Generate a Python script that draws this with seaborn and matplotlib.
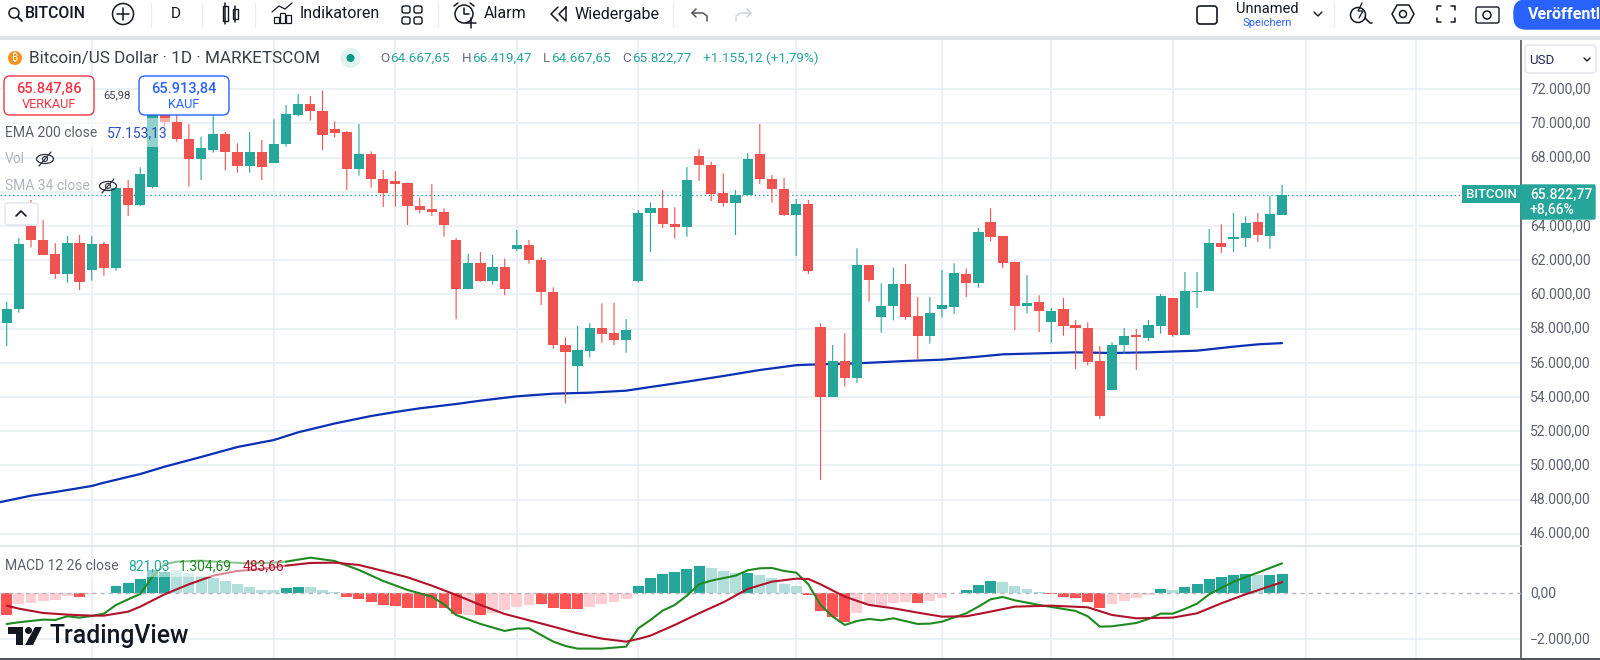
import numpy as np
import pandas as pd
import matplotlib
matplotlib.use('Agg')
import matplotlib.pyplot as plt
from matplotlib.patches import Circle, Ellipse, FancyBboxPatch, Polygon, Rectangle
import seaborn as sns

# Daily candles
opens = [58309, 59128, 64022, 63184, 62346, 61176, 63028, 61429, 62930, 61546, 66226, 65212, 66265, 70800, 70107, 69112, 67942, 68469, 69385, 68332, 67532, 68332, 67688, 68800, 70516, 71120, 70750, 69658, 69502, 67318, 68215, 66752, 66636, 66499, 65173, 64978,
         64822, 63184, 60298, 61819, 60786, 61604, 62638, 62872, 62014, 60123, 57022, 55813, 56710, 58016, 57724, 57334, 60805, 64744, 65075, 64120, 63964, 68117, 67591, 65914, 65329, 65797, 68234, 66752, 66167, 64646,
         65290, 58075, 54019, 56086, 55131, 61702, 58699, 59342, 60590, 58718, 57548, 59167, 59284, 61175, 60649, 64217, 63398, 61878, 59342, 59537, 58387, 59128, 58211, 58017, 56086, 54409, 57022, 57607, 57451, 58172, 59771, 57646, 60122, 60220, 63028, 63223, 63320, 64217, 63437, 64668]
highs = [59576, 63282, 65524, 64354, 62989, 63418, 63476, 63418, 63086, 66226, 66694, 67435, 70984, 71179, 70594, 69970, 69229, 70497, 69502, 68839, 69502, 69034, 70243, 71081, 71725, 71608, 71920, 70126, 69560, 69970, 68371, 67279, 67220, 66499, 65660, 66460,
         65036, 63301, 62365, 62482, 62306, 62092, 63769, 63184, 62170, 60415, 57490, 58153, 58309, 59479, 59518, 58562, 64939, 65388, 66109, 65095, 67454, 68507, 67767, 67084, 66109, 68254, 69970, 66986, 66811, 65582,
         65524, 58309, 57041, 57724, 62697, 61702, 60649, 61566, 61780, 59850, 59850, 61429, 61819, 61507, 63886, 65036, 63398, 61916, 61136, 59947, 59206, 59791, 58504, 58367, 56983, 57198, 58036, 57977, 58504, 60025, 59771, 61312, 61312, 63827, 64100, 64764, 64569, 64764, 65778, 66419]
lows = [56983, 58933, 62755, 62326, 60902, 60688, 60259, 60805, 61097, 61390, 64588, 65173, 66206, 69814, 68937, 66304, 66694, 68293, 67260, 67123, 67123, 66694, 67688, 68644, 70399, 70165, 68449, 69190, 66109, 66947, 66245, 65114, 65134, 64062, 64744, 64588,
        63379, 58543, 60298, 60747, 60571, 59947, 62540, 61800, 59381, 56827, 53629, 54312, 56320, 57178, 57041, 56593, 60688, 62482, 63886, 63262, 63379, 66635, 65465, 65134, 63476, 65797, 66460, 65368, 64588, 62248,
        61195, 49144, 54019, 54604, 54818, 59576, 57763, 58484, 58523, 56164, 57120, 58640, 58855, 59850, 60395, 63106, 61526, 57919, 58894, 57802, 57178, 57587, 55638, 55852, 52712, 54409, 56515, 55579, 57276, 57705, 57529, 57646, 59206, 60220, 62424, 62482, 62774, 63067, 62677, 64668]
closes = [59128, 62930, 63184, 62326, 61176, 63028, 60747, 62930, 61546, 66226, 65212, 67026, 70800, 70107, 69112, 67942, 68547, 69385, 68332, 67532, 68332, 67474, 68800, 70555, 71120, 70750, 69327, 69463, 67318, 68215, 66752, 65953, 66480, 65173, 64958, 64802,
          64062, 60298, 61819, 60786, 61604, 60337, 62872, 62014, 60123, 57022, 56652, 56730, 58016, 57704, 57334, 57919, 64744, 65075, 64140, 63944, 66694, 67591, 65875, 65329, 65817, 67903, 66752, 66167, 64646, 65270,
          61390, 53980, 56086, 55131, 61702, 60863, 59342, 60590, 58699, 57548, 58933, 59362, 61234, 60688, 63652, 63379, 61858, 59342, 59498, 59011, 59030, 58172, 58036, 56067, 52888, 57022, 57568, 57510, 58192, 59908, 57646, 60181, 60181, 63028, 62794, 63340, 64159, 63496, 64705, 65823]

ema_idx = [-1, 2, 4, 7, 8, 11, 13, 16, 19, 22, 24, 27, 30, 32, 34, 37, 39, 42, 45, 48, 51, 53, 56, 59, 62, 65, 66, 70, 74, 77, 80, 82, 85, 88, 91, 94, 98, 101, 103, 105]
ema_vals = [47781, 48226, 48442, 48793, 48986, 49495, 49922, 50490, 51075, 51484, 51935, 52449, 52888, 53122, 53337, 53590, 53785, 54039, 54194, 54253, 54370, 54584, 54896, 55228, 55579, 55860, 55891, 55969, 56105, 56183, 56359, 56496, 56554, 56612, 56574, 56612, 56710, 56944, 57080, 57153]

hist = [-942, -478, -435, -319, -290, -116, -160, -43, 20, 333, 464, 623, 1014, 942, 1014, 898, 768, 652, 536, 391, 275, 145, 145, 217, 290, 261, 145, 58,
        -145, -246, -377, -507, -551, -638, -652, -652, -652, -913, -942, -942, -840, -725, -609, -507, -464, -623, -696, -696, -594, -478, -391, -246,
        333, 681, 840, 927, 1072, 1188, 1116, 971, 869, 884, 797, 667, 406, 304, -72, -768, -1043, -1260, -869, -507, -551, -406, -362, -420, -319, -203,
        29, 145, 362, 536, 478, 304, 188, 58, -43, -145, -203, -362, -638, -464, -319, -203, -72, 188, 130, 290, 406, 638, 725, 797, 840, 797, 797, 821]
hist_strong = [0, 6, 9, 10, 11, 12, 13, 23, 24, 28, 29, 30, 31, 32, 33, 34, 35, 36, 37, 39, 44, 45, 46, 47, 52, 53, 54, 55, 56, 57, 61, 66, 67, 68, 69, 75,
               79, 80, 81, 86, 87, 88, 89, 90, 95, 97, 98, 99, 100, 101, 102, 104, 105]

macd_idx = [0, 1, 3, 4, 5, 6, 7, 8, 9, 10, 11, 12, 13, 14, 16, 18, 20, 22, 23, 25, 27, 29, 31, 33, 35, 36, 37, 39, 41, 42, 43, 44, 45, 46, 47, 49, 51, 52,
            53, 54, 55, 56, 57, 58, 60, 61, 62, 63, 64, 65, 66, 67, 68, 69, 70, 71, 72, 73, 75, 76, 77, 79, 80, 81, 82, 83, 85, 88, 89, 90, 91, 93, 94, 95, 96, 97, 98, 99, 101, 103, 105]
macd_vals = [-1333, -1260, -1145, -1159, -1000, -1058, -985, -884, -507, -261, -29, 725, 1261, 1377, 1420, 1348, 1304, 1333, 1377, 1550, 1406, 1014, 536, 145, -145, -478, -942, -1333, -1637, -1536, -1521, -1811, -2101, -2290, -2405, -2405, -2318, -1521,
             -1159, -753, -507, -101, 391, 551, 768, 1000, 1087, 1101, 971, 898, 391, -507, -1014, -1377, -1203, -1116, -1174, -1087, -1333, -1319, -1232, -869, -580, -261, -159, -304, -507, -768, -1000, -1449, -1435, -1290, -1116, -884, -884, -681, -449, -43, 507, 898, 1304]

signal_idx = [0, 1, 3, 5, 7, 8, 10, 11, 13, 15, 17, 19, 21, 23, 25, 27, 29, 31, 33, 35, 37, 39, 41, 43, 45, 47, 49, 51, 52,
              53, 55, 57, 59, 61, 63, 65, 66, 67, 69, 71, 73, 75, 77, 79, 81, 83, 86, 89, 91, 93, 96, 98, 100, 102, 105]
signal_vals = [-536, -667, -855, -927, -971, -971, -797, -580, -43, 391, 768, 971, 1058, 1203, 1319, 1333, 1232, 971, 696, 333, -72, -507, -898, -1174, -1449, -1739, -1971, -2101, -1985,
               -1840, -1377, -869, -391, 188, 507, 638, 623, 391, -145, -507, -652, -840, -1014, -1000, -797, -580, -536, -609, -942, -1087, -1058, -869, -435, -43, 484]

price_ticks = list(range(46000, 74000, 2000))
macd_ticks = [-2000, 0]
time_grid = [7, 22, 32, 42, 52, 65, 77, 86, 96, 107, 116]
last_price = 65822.77

UP = '#26a69a'
DOWN = '#ef5350'
UP_PALE = '#b2dfdb'
DOWN_PALE = '#ffcdd2'
DOWN_HIST = '#ff5252'
GRID = '#e9eff4'
TEXT = '#4a4e59'
MUTED = '#b2b5be'
BLUE = '#2962ff'
FONT = ['Roboto', 'DejaVu Sans']

sns.set_theme(style='white')
plt.rcParams['font.family'] = FONT

df = pd.DataFrame({'i': range(len(opens)), 'open': opens, 'high': highs, 'low': lows, 'close': closes})
df['lower'] = df[['open', 'close']].min(axis=1)
df['body'] = (df['close'] - df['open']).abs()
df['up'] = df['close'] >= df['open']

hist_df = pd.DataFrame({'i': range(len(hist)), 'hist': hist})
hist_df['strong'] = hist_df['i'].isin(hist_strong)


def hist_color(row):
    if row['hist'] >= 0:
        return UP if row['strong'] else UP_PALE
    return DOWN_HIST if row['strong'] else DOWN_PALE


hist_df['color'] = hist_df.apply(hist_color, axis=1)

W, H = 1600, 660
fig = plt.figure(figsize=(16, 6.6), dpi=100)
# one candle = 12.146 px, first candle centred at 6.7 px, right axis at 1521 px
xlim = (-0.552, 124.67)
ax = fig.add_axes([0, 1 - 546 / H, 1521 / W, (546 - 40) / H])
ax2 = fig.add_axes([0, 1 - 658 / H, 1521 / W, (658 - 546) / H])

# price pane
for sign, color in [(True, UP), (False, DOWN)]:
    sub = df[df['up'] == sign]
    wicks = ax.vlines(sub['i'], sub['low'], sub['high'], color=color, lw=0.8, zorder=3)
    wicks.set_snap(False)
    sns.barplot(x=sub['i'], y=sub['body'], bottom=sub['lower'], color=color, saturation=1,
                native_scale=True, width=0.84, errorbar=None, ax=ax, zorder=4, linewidth=0)
sns.lineplot(x=ema_idx, y=ema_vals, color='#0b30b4', lw=1.6, errorbar=None, ax=ax, zorder=2)
ax.axhline(last_price, color=UP, lw=1, ls=(0, (1, 2)), zorder=2)
ax.set_ylim(45283, 74884)

# MACD pane
for col, sub in hist_df.groupby('color'):
    sns.barplot(x=sub['i'], y=sub['hist'], color=col, saturation=1, native_scale=True,
                width=0.9, errorbar=None, ax=ax2, zorder=2, linewidth=0)
ax2.axhline(0, color=MUTED, lw=1, ls=(0, (3, 3)), zorder=3)
sns.lineplot(x=macd_idx, y=macd_vals, color='#1f8a21', lw=1.5, errorbar=None, ax=ax2, zorder=5)
sns.lineplot(x=signal_idx, y=signal_vals, color='#b0122a', lw=1.5, errorbar=None, ax=ax2, zorder=6)
ax2.set_ylim(-2813, 2057)


def german(v):
    s = f"{abs(v):,.2f}".replace(',', 'X').replace('.', ',').replace('X', '.')
    return ('\u2212' + s) if v < 0 else s


for a, ticks in [(ax, price_ticks), (ax2, macd_ticks)]:
    a.set_xlim(*xlim)
    a.set_xticks(time_grid)
    a.set_xticklabels([])
    a.set_yticks(ticks)
    a.set_yticklabels([german(t) for t in ticks], va='center')
    a.yaxis.tick_right()
    a.tick_params(axis='both', length=0)
    a.tick_params(axis='y', pad=6.5, labelsize=10, labelcolor='#5d606b')
    a.grid(True, color=GRID, lw=1.2, zorder=0)
    a.set_axisbelow(True)
    a.set_xlabel('')
    a.set_ylabel('')
    for name, spine in a.spines.items():
        spine.set_visible(name == 'right')
    a.spines['right'].set_color('#50535e')
    a.spines['right'].set_linewidth(1.2)
ax2.yaxis.grid(False)
ax2.axhline(-2000, color=GRID, lw=1.2, zorder=0)

# everything around the chart goes on a pixel overlay
ov = fig.add_axes([0, 0, 1, 1], zorder=10)
ov.set_xlim(0, W)
ov.set_ylim(H, 0)
ov.axis('off')
ov.patch.set_visible(False)


def label(x, y, s, size=10, color=TEXT, ha='left', weight='normal', **kw):
    return ov.text(x, y, s, fontsize=size, color=color, ha=ha, va='center', weight=weight, **kw)


def rbox(x0, y0, x1, y1, r=4, fc='white', ec='#e0e3eb', lw=1.0, alpha=None):
    p = FancyBboxPatch((x0 + r, y0 + r), x1 - x0 - 2 * r, y1 - y0 - 2 * r, boxstyle=f'round,pad={r}',
                       fc=fc, ec=ec, lw=lw, alpha=alpha)
    ov.add_patch(p)


def stroke(xs, ys, color='#131722', lw=1.1):
    ov.plot(xs, ys, color=color, lw=lw, solid_capstyle='round', solid_joinstyle='round')


def ring(x, y, r, color='#131722', lw=1.1):
    ov.add_patch(Circle((x, y), r, fc='none', ec=color, lw=lw))


def eye_off(x, y):
    ov.add_patch(Ellipse((x, y), 17, 9, fc='none', ec='#2a2e39', lw=0.9))
    ring(x, y, 2.5, '#2a2e39', 0.8)
    stroke([x - 6, x + 6], [y + 7, y - 7], '#2a2e39', 0.9)


# toolbar
ov.add_patch(Rectangle((0, 36), W, 4, fc='#e0e3eb', ec='none'))
ring(14, 13, 5)
stroke([18, 22], [17, 21], lw=1.3)
label(25, 14, 'BITCOIN', 11.3, '#131722', weight='medium')
ring(123, 14, 10.5)
stroke([117, 129], [14, 14])
stroke([123, 123], [8, 20])
label(176, 14, 'D', 11, '#131722', ha='center')
for sx in [151, 202, 255, 438, 673, 1334]:
    stroke([sx, sx], [3, 27], '#e9ebf0', 1.0)
for cx, y0, y1 in [(225, 6, 21), (235, 9, 19)]:
    ov.add_patch(Rectangle((cx - 2.5, y0), 5, y1 - y0, fc='none', ec='#131722', lw=1))
    stroke([cx, cx], [y0 - 3, y1 + 3])
for bx, bh in [(274, 6), (280, 10), (286, 8)]:
    ov.add_patch(Rectangle((bx, 23 - bh), 5, bh, fc='none', ec='#131722', lw=0.9))
stroke([272, 279, 285, 292], [12, 6, 9, 3], lw=0.9)
label(300, 14, 'Indikatoren', 11.5, '#131722')
for gx, gy in [(402, 6), (414, 6), (402, 17), (414, 17)]:
    rbox(gx, gy, gx + 8, gy + 7, r=2, fc='none', ec='#131722')
ring(464, 14, 9)
stroke([464, 464, 469], [8, 14, 14])
stroke([454, 458], [6, 3])
stroke([470, 474], [3, 6])
stroke([466, 476], [23, 23])
stroke([471, 471], [18, 28])
label(484, 14, 'Alarm', 11.5, '#131722')
stroke([558, 551, 558], [7, 14, 21])
stroke([566, 559, 566, 566], [7, 14, 21, 7])
label(575, 14, 'Wiedergabe', 11.5, '#131722')
stroke([696, 692, 696], [9, 13, 17], '#50535e')
stroke([692, 703, 707, 707], [13, 13, 16, 21], '#50535e')
stroke([747, 751, 747], [9, 13, 17], '#d1d4dc')
stroke([751, 740, 736, 736], [13, 13, 16, 21], '#d1d4dc')
rbox(1197, 6, 1217, 24, r=3, fc='none', ec='#131722', lw=1.2)
label(1267, 9, 'Unnamed', 10.5, '#131722', ha='center')
label(1267, 23, 'Speichern', 8, BLUE, ha='center')
stroke([1314, 1318, 1322], [12, 16, 12], lw=1.0)
ring(1358, 15, 7.5)
stroke([1365, 1370, 1372], [18, 23, 23])
stroke([1362, 1358, 1363, 1359], [3, 11, 11, 18], lw=0.9)
ov.add_patch(Polygon([(1392, 14), (1397, 5), (1409, 5), (1414, 14), (1409, 23), (1397, 23)], fc='none', ec='#131722', lw=1.1))
ring(1403, 14, 3.5)
for a, b, sa, sb in [(1437, 6, 1, 1), (1455, 6, -1, 1), (1437, 22, 1, -1), (1455, 22, -1, -1)]:
    stroke([a + 4 * sa, a, a], [b, b, b + 4 * sb])
rbox(1476, 7, 1499, 23, r=2, fc='none', ec='#131722')
ring(1487, 15, 4)
rbox(1514, 0, 1680, 29, r=12, fc=BLUE, ec=BLUE)
label(1528, 14.5, 'Ver\u00f6ffentl', 11.5, 'white', weight='bold')

# status line
ov.add_patch(Circle((15, 58), 7, fc='#f7931a', ec='none'))
label(15, 58, '\u20bf', 7.5, 'white', ha='center', weight='bold',
      family=['Noto Sans', 'Roboto', 'Inter', 'Open Sans', 'Lato', 'Liberation Sans', 'DejaVu Sans'])
label(29, 58, 'Bitcoin/US Dollar \u00b7 1D \u00b7 MARKETSCOM', 12.3, '#3a3e49')
ov.add_patch(Circle((350.5, 58), 10, fc='#dff3f0', ec='none'))
ov.add_patch(Circle((350.5, 58), 4, fc='#089981', ec='none'))
for kx, k, vx, v in [(380, 'O', 390, '64.667,65'), (462, 'H', 472, '66.419,47'),
                     (543, 'L', 551, '64.667,65'), (622, 'C', 632, '65.822,77')]:
    label(kx, 58, k, 9.7, '#6a6d78')
    label(vx, 58, v, 9.7, UP)
label(703, 58, '+1.155,12 (+1,79%)', 9.7, UP)

# buy and sell buttons
rbox(4, 76, 94, 115, r=6, fc='white', ec='#f23645')
label(49, 89, '65.847,86', 10.5, '#f23645', ha='center', weight='medium')
label(49, 104, 'VERKAUF', 9.2, '#f23645', ha='center')
label(117, 95, '65,98', 8, '#3a3e49', ha='center')
rbox(139, 76, 229, 115, r=6, fc='white', ec=BLUE)
label(184, 89, '65.913,84', 10.5, BLUE, ha='center', weight='medium')
label(184, 104, 'KAUF', 9.2, BLUE, ha='center')

# indicator legends
ov.add_patch(Rectangle((0, 118), 172, 29, fc='white', ec='none', alpha=0.5))
label(5, 133, 'EMA 200 close', 10, '#5d606b')
label(107, 133, '57.153,13', 10, '#2a4fc0')
label(5, 159, 'Vol', 10, MUTED)
eye_off(45, 159)
label(5, 186, 'SMA 34 close', 10, MUTED)
eye_off(108, 186)
rbox(5, 203, 38, 225, r=3)
stroke([16, 21, 26], [216, 211, 216], lw=1.2)
ov.add_patch(Rectangle((0, 557), 285, 20, fc='white', ec='none', alpha=0.5))
label(5, 566, 'MACD 12 26 close', 10, '#5d606b')
label(128, 566, '821,03', 10, UP)
label(179, 566, '1.304,69', 10, '#1f8a21')
label(243, 566, '483,66', 10, '#b0122a')

# right scale
rbox(1525, 45, 1596, 73, r=4)
label(1529, 60, 'USD', 9.5, '#1e2a55')
stroke([1584, 1587, 1590], [58, 61, 58], lw=1.0)
ov.add_patch(Rectangle((1462, 185), 59, 18, fc=UP, ec='none'))
label(1466, 194.5, 'BITCOIN', 9.5, 'white', weight='medium')
rbox(1521, 185, 1595, 219, r=1, fc=UP, ec=UP)
label(1530, 194.5, '65.822,77', 10, 'white', weight='medium')
label(1530, 210, '+8,66%', 10, 'white', weight='medium')

# pane borders and logo
stroke([0, 1521], [546, 546], '#e0e3eb', 1.2)
ov.add_patch(Rectangle((0, 658), W, 2, fc='#50535e', ec='none'))
ov.add_patch(Polygon([(8, 627), (23, 627), (23, 645), (16, 645), (16, 634), (8, 634)], fc='#131722', ec='none'))
ov.add_patch(Circle((28.5, 630.5), 3.5, fc='#131722', ec='none'))
ov.add_patch(Polygon([(35, 627), (42, 627), (33, 645), (25, 645)], fc='#131722', ec='none'))
label(50, 636, 'TradingView', 17.8, '#131722', weight='medium')

fig.savefig('out.png', dpi=100)
